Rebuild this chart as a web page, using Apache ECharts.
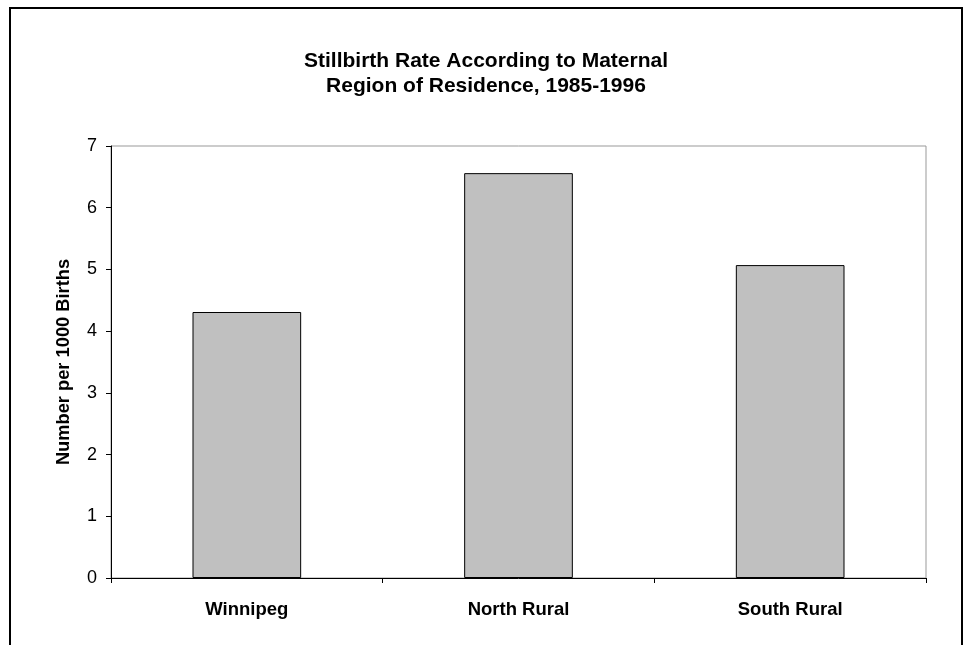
<!DOCTYPE html>
<html>
<head>
<meta charset="utf-8">
<script src="https://cdn.jsdelivr.net/npm/echarts@6/dist/echarts.min.js"></script>
<style>
  html, body { margin: 0; padding: 0; background: #fff; }
  #chart { width: 964px; height: 645px; }
</style>
</head>
<body>
<div id="chart"></div>
<script>
const categories = ["Winnipeg", "North Rural", "South Rural"];
const rates = [4.31, 6.56, 5.07];
const titleLines = ["Stillbirth Rate According to Maternal", "Region of Residence, 1985-1996"];
const yAxisName = "Number per 1000 Births";

const chart = echarts.init(document.getElementById("chart"));
const font = "'Liberation Sans', Arial, sans-serif";

chart.setOption({
  animation: false,
  textStyle: { fontFamily: font },
  title: {
    text: titleLines.join("\n"),
    left: 481,
    textAlign: "center",
    top: 44,
    textStyle: {
      fontFamily: font,
      fontSize: 21,
      fontWeight: "bold",
      color: "#000",
      lineHeight: 25,
    },
  },
  graphic: [
    {
      type: "rect",
      shape: { x: 10, y: 8, width: 952, height: 700 },
      style: { fill: "none", stroke: "#000", lineWidth: 2 },
      silent: true,
    },
  ],
  grid: {
    left: 111,
    top: 146,
    right: 38,
    bottom: 67,
    show: true,
    borderColor: "#999",
    borderWidth: 1,
  },
  xAxis: {
    type: "category",
    data: categories,
    axisLine: { lineStyle: { color: "#000", width: 1 } },
    axisTick: { show: true, length: 5, lineStyle: { color: "#000" } },
    axisLabel: {
      color: "#000",
      fontSize: 18.5,
      fontWeight: "bold",
      fontFamily: font,
      margin: 22,
    },
  },
  yAxis: {
    type: "value",
    min: 0,
    max: 7,
    interval: 1,
    name: yAxisName,
    nameLocation: "middle",
    nameGap: 38,
    nameTextStyle: {
      color: "#000",
      fontSize: 18.3,
      fontWeight: "bold",
      fontFamily: font,
    },
    axisLine: { show: true, lineStyle: { color: "#000", width: 1 } },
    axisTick: { show: true, length: 5, lineStyle: { color: "#000" } },
    axisLabel: { color: "#000", fontSize: 18, fontFamily: font, margin: 14 },
    splitLine: { show: false },
  },
  series: [
    {
      type: "bar",
      data: rates,
      barWidth: "40%",
      itemStyle: { color: "#c0c0c0", borderColor: "#000", borderWidth: 1 },
    },
  ],
});
</script>
</body>
</html>
